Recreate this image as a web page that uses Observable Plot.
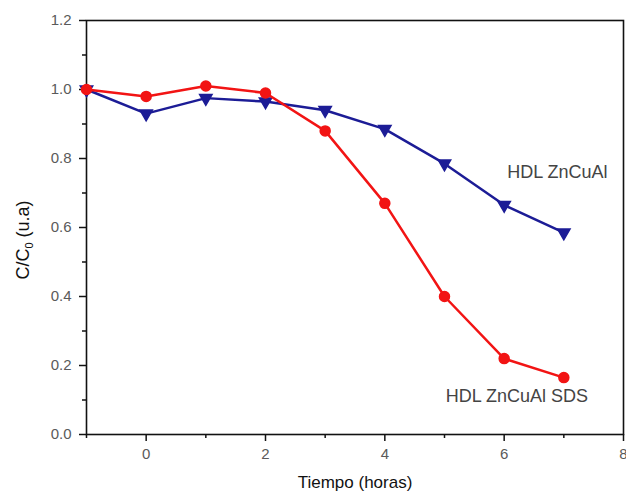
<!DOCTYPE html>
<html>
<head>
<meta charset="utf-8">
<script src="https://cdn.jsdelivr.net/npm/d3@7"></script>
<script src="https://cdn.jsdelivr.net/npm/@observablehq/plot@0.6"></script>
<style>
  html, body { margin: 0; padding: 0; background: #fff; }
  #chart { width: 626px; height: 496px; }
</style>
</head>
<body>
<div id="chart"></div>
<script>
const hours = [-1, 0, 1, 2, 3, 4, 5, 6, 7];
const sdsValues = [1.0, 0.98, 1.01, 0.99, 0.88, 0.67, 0.40, 0.22, 0.165];
const plainValues = [1.0, 0.93, 0.975, 0.965, 0.94, 0.885, 0.785, 0.665, 0.585];
const xMajorTicks = [0, 2, 4, 6, 8];
const xMinorTicks = [-1, 1, 3, 5, 7];
const yMajorTicks = [0, 0.2, 0.4, 0.6, 0.8, 1.0, 1.2];
const yMinorTicks = [0.1, 0.3, 0.5, 0.7, 0.9, 1.1];
const seriesLabels = [
  {x: 6.05, y: 0.76, text: "HDL ZnCuAl"},
  {x: 5.02, y: 0.11, text: "HDL ZnCuAl SDS"}
];

const sds = hours.map((h, i) => ({x: h, y: sdsValues[i]}));
const plain = hours.map((h, i) => ({x: h, y: plainValues[i]}));

const red = "#f21414";
const blue = "#1c1c96";
const tickColor = "#5a5a5a";

const chart = Plot.plot({
  width: 626,
  height: 496,
  marginLeft: 86,
  marginRight: 3,
  marginTop: 20,
  marginBottom: 62,
  style: {fontFamily: "Liberation Sans, Arial, sans-serif", fontSize: "15px", background: "#fff"},
  x: {domain: [-1, 8]},
  y: {domain: [0, 1.2]},
  marks: [
    Plot.axisX(xMajorTicks, {tickSize: 7, tickPadding: 7, tickFormat: d3.format("d"), fill: tickColor, stroke: "#111", strokeWidth: 1.5, fontSize: 15, label: null}),
    Plot.axisX(xMinorTicks, {tickSize: 4, text: null, stroke: "#111", strokeWidth: 1.5, label: null}),
    Plot.axisY(yMajorTicks, {tickSize: 7, tickPadding: 8, tickFormat: d3.format(".1f"), fill: tickColor, stroke: "#111", strokeWidth: 1.5, fontSize: 15, label: null}),
    Plot.axisY(yMinorTicks, {tickSize: 4, text: null, stroke: "#111", strokeWidth: 1.5, label: null}),
    Plot.frame({stroke: "#111", strokeWidth: 1.6}),
    Plot.line(plain, {x: "x", y: "y", stroke: blue, strokeWidth: 2.5}),
    Plot.dot(plain, {x: "x", y: "y", symbol: "triangle", rotate: 180, r: 4.6, fill: blue, stroke: blue}),
    Plot.line(sds, {x: "x", y: "y", stroke: red, strokeWidth: 2.5}),
    Plot.dot(sds, {x: "x", y: "y", r: 5, fill: red, stroke: red}),
    Plot.text(seriesLabels, {x: "x", y: "y", text: "text", textAnchor: "start", fill: "#444", fontSize: 18}),
    Plot.text(["Tiempo (horas)"], {frameAnchor: "bottom", dy: 53, fontSize: 17, fill: "#111"}),
    Plot.text(["C/C0 (u.a)"], {frameAnchor: "left", rotate: -90, fontSize: 18, fill: "#111", className: "ylabel"})
  ]
});
document.getElementById("chart").appendChild(chart);

// place the y-axis label and render its subscript
d3.select(chart).selectAll(".ylabel text").each(function () {
  const t = d3.select(this);
  t.attr("transform", "translate(23,240) rotate(-90)")
   .attr("x", null).attr("y", null)
   .attr("text-anchor", "middle")
   .attr("dy", "0.35em");
  t.text(null);
  t.append("tspan").text("C/C");
  t.append("tspan").attr("font-size", 11).attr("dy", 4).text("0");
  t.append("tspan").attr("dy", -4).text(" (u.a)");
});
d3.select(chart).selectAll(".ylabel").attr("transform", null);
</script>
</body>
</html>
